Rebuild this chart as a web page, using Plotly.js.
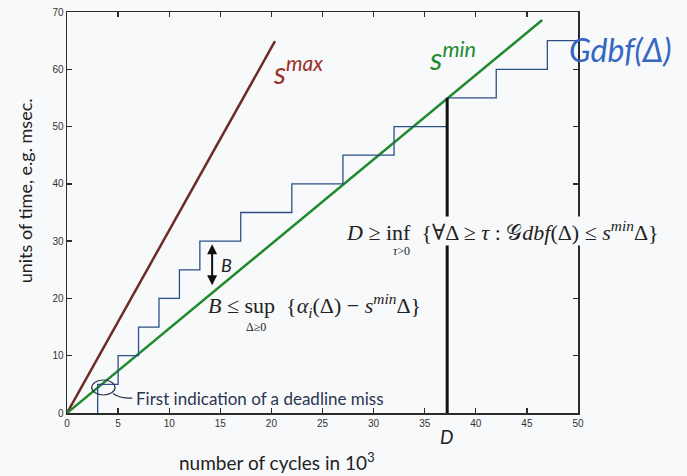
<!DOCTYPE html>
<html>
<head>
<meta charset="utf-8">
<script src="https://cdn.plot.ly/plotly-3.0.1.min.js"></script>
<style>html,body{margin:0;padding:0;background:#f8f9fb;}</style>
</head>
<body>
<div id="chart" style="width:687px;height:476px;"></div>
<script>
// Gdbf staircase (number of cycles in 10^3 vs units of time)
var dbfX = [3, 3, 5, 7, 9, 11, 13, 17, 22, 27, 32, 37.2, 42, 47, 50];
var dbfY = [0, 5, 10, 15, 20, 25, 30, 35, 40, 45, 50, 55, 60, 65, 65];
// service curves
var sminX = [0, 46.5];
var sminY = [0, 68.6];
var smaxX = [0, 20.35];
var smaxY = [0, 64.9];
// deadline marker D
var dLineX = [37.2, 37.2];
var dLineY = [-0.8, 55];
// B arrow (x, top, bottom)
var bArrowX = 14.2;
var bArrowTop = 29.7;
var bArrowBottom = 22.3;
// axis ticks
var xTicks = [0, 5, 10, 15, 20, 25, 30, 35, 40, 45, 50];
var yTicks = [0, 10, 20, 30, 40, 50, 60, 70];

var bg = '#f8f9fb';
var traces = [
  {x: smaxX, y: smaxY, mode: 'lines', line: {color: '#6e2a26', width: 2.5}, hoverinfo: 'skip'},
  {x: sminX, y: sminY, mode: 'lines', line: {color: '#1e8a2c', width: 2.5}, hoverinfo: 'skip'},
  {x: dbfX, y: dbfY, mode: 'lines', line: {color: '#2c4f86', width: 1.3, shape: 'hv'}, hoverinfo: 'skip'},
  {x: dLineX, y: dLineY, mode: 'lines', line: {color: '#111111', width: 3}, cliponaxis: false, hoverinfo: 'skip'}
];

var serif = 'Liberation Serif, DejaVu Serif, serif';
var sans = 'Lato, Open Sans, sans-serif';

var layout = {
  width: 687, height: 476,
  margin: {l: 67, r: 109, t: 12, b: 63},
  paper_bgcolor: bg, plot_bgcolor: bg,
  showlegend: false,
  xaxis: {
    range: [0, 50], tickvals: xTicks, ticks: 'inside', ticklen: 5, tickwidth: 1.3,
    tickcolor: '#2b2b2b', showline: true, linecolor: '#2b2b2b', linewidth: 1.5,
    mirror: 'ticks', showgrid: false, zeroline: false,
    tickfont: {family: 'Liberation Sans, Arial, sans-serif', size: 10, color: '#333'}
  },
  yaxis: {
    range: [0, 70], tickvals: yTicks, ticks: 'inside', ticklen: 5, tickwidth: 1.3,
    tickcolor: '#2b2b2b', showline: true, linecolor: '#2b2b2b', linewidth: 1.5,
    mirror: 'ticks', showgrid: false, zeroline: false,
    tickfont: {family: 'Liberation Sans, Arial, sans-serif', size: 10, color: '#333'}
  },
  shapes: [
    {type: 'circle', xref: 'x', yref: 'y', x0: 2.42, x1: 4.7, y0: 3.14, y1: 5.76,
     line: {color: '#2b3550', width: 1.2}},
    {type: 'path', xref: 'x', yref: 'y', path: 'M 4.5,3.4 Q 5.2,2.5 6.4,2.6',
     line: {color: '#2b3550', width: 1.2}}
  ],
  annotations: [
    {x: bArrowX, y: bArrowBottom, ax: bArrowX, ay: bArrowTop, xref: 'x', yref: 'y', axref: 'x', ayref: 'y',
     text: '', showarrow: true, arrowhead: 2, arrowside: 'end+start', arrowwidth: 2, arrowsize: 1, arrowcolor: '#111'},
    {x: 14.9, y: 25.9, xref: 'x', yref: 'y', text: '<i>B</i>', showarrow: false, xanchor: 'left',
     font: {family: sans, size: 18, color: '#222'}},
    {x: 22.6, y: 59.8, xref: 'x', yref: 'y', text: '<i>s</i><sup><i>max</i></sup>', showarrow: false,
     font: {family: sans, size: 30, color: '#9c2f27'}},
    {x: 37.7, y: 62.3, xref: 'x', yref: 'y', text: '<i>s</i><sup><i>min</i></sup>', showarrow: false,
     font: {family: sans, size: 31, color: '#238a2e'}},
    {x: 48.9, y: 63.4, xref: 'x', yref: 'y', text: '<i>Gdbf(Δ)</i>', showarrow: false, xanchor: 'left',
     font: {family: sans, size: 32, color: '#3566c0'}},
    {x: 27.2, y: 31.8, xref: 'x', yref: 'y', xanchor: 'left', yanchor: 'middle',
     text: '<i>D</i> ≥ inf  {∀Δ ≥ <i>τ</i> : 𝒢<i>dbf</i>(Δ) ≤ <i>s</i><sup><i>min</i></sup>Δ}',
     showarrow: false, bgcolor: bg, borderpad: 0, font: {family: serif, size: 22, color: '#222'}},
    {x: 32.7, y: 28.3, xref: 'x', yref: 'y', text: '<i>τ</i>>0', showarrow: false, borderpad: 0,
     font: {family: serif, size: 12, color: '#222'}},
    {x: 13.7, y: 18.8, xref: 'x', yref: 'y', xanchor: 'left', yanchor: 'middle',
     text: '<i>B</i> ≤ sup  {<i>α<sub>i</sub></i>(Δ) − <i>s</i><sup><i>min</i></sup>Δ}',
     showarrow: false, borderpad: 0, font: {family: serif, size: 22, color: '#222'}},
    {x: 18.5, y: 15.1, xref: 'x', yref: 'y', text: 'Δ≥0', showarrow: false, borderpad: 0,
     font: {family: serif, size: 12, color: '#222'}},
    {x: 6.6, y: 2.6, xref: 'x', yref: 'y', xanchor: 'left', text: 'First indication of a deadline miss',
     showarrow: false, font: {family: sans, size: 17, color: '#2b3550'}},
    {x: 0.7436, y: -0.058, xref: 'paper', yref: 'paper', xanchor: 'center', yanchor: 'middle',
     text: '<i>D</i>', showarrow: false, font: {family: sans, size: 19, color: '#222'}},
    {x: 0.41, y: -0.12, xref: 'paper', yref: 'paper', xanchor: 'center', yanchor: 'middle',
     text: 'number of cycles in 10<sup>3</sup>', showarrow: false, font: {family: sans, size: 19, color: '#222'}},
    {x: -0.082, y: 0.553, xref: 'paper', yref: 'paper', xanchor: 'center', yanchor: 'middle',
     text: 'units of time, e.g. msec.', textangle: -90, showarrow: false, font: {family: sans, size: 18, color: '#222'}}
  ]
};

Plotly.newPlot('chart', traces, layout, {staticPlot: true, displayModeBar: false});
</script>
</body>
</html>
